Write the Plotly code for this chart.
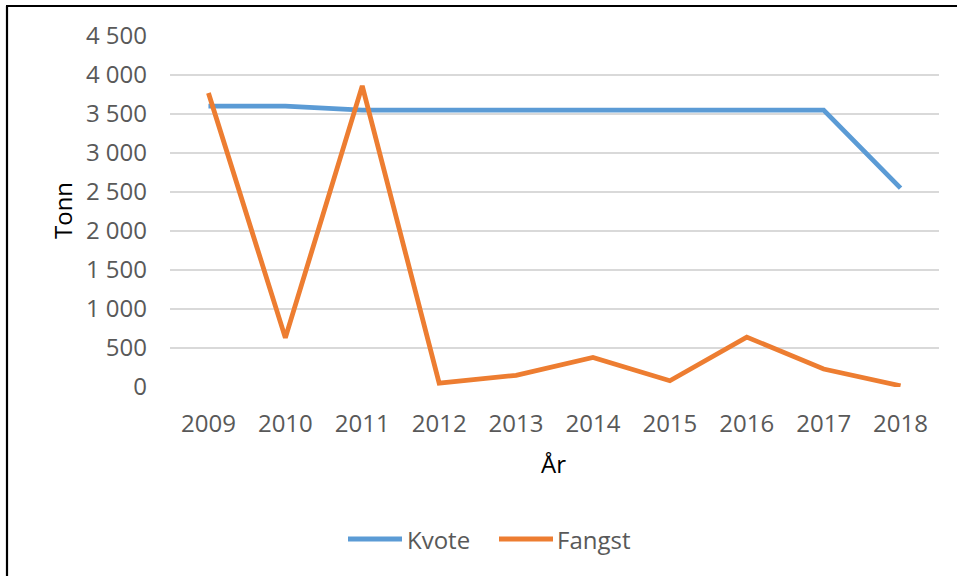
import plotly.graph_objects as go

years = ["2009", "2010", "2011", "2012", "2013", "2014", "2015", "2016", "2017", "2018"]
kvote = [3600, 3600, 3550, 3550, 3550, 3550, 3550, 3550, 3550, 2550]
fangst = [3770, 630, 3860, 50, 150, 380, 80, 640, 230, 15]
y_ticks = [0, 500, 1000, 1500, 2000, 2500, 3000, 3500, 4000, 4500]
series_names = ["Kvote", "Fangst"]
colors = ["#5B9BD5", "#ED7D31"]

FONT = "Open Sans, Carlito, Lato, sans-serif"
GREY = "#595959"

fig = go.Figure()
for name, vals, col in zip(series_names, [kvote, fangst], colors):
    fig.add_trace(go.Scatter(x=years, y=vals, mode="lines", name=name,
                             line=dict(color=col, width=4.8), showlegend=False))

W, H = 957, 576
L, R, T, B = 170, 18, 36, 189
pw, ph = W - L - R, H - T - B

def px(xp):
    return (xp - L) / pw

def py(yp):
    return (H - B - yp) / ph

shapes = [
    # outer chart frame (left and top edges visible)
    dict(type="line", xref="paper", yref="paper", x0=px(7), x1=px(7), y0=py(600), y1=py(6),
         line=dict(color="black", width=2.2)),
    dict(type="line", xref="paper", yref="paper", x0=px(6), x1=px(970), y0=py(6), y1=py(6),
         line=dict(color="black", width=2.2)),
]
annotations = [
    dict(text="Tonn", xref="paper", yref="paper", x=px(62), y=py(211), textangle=-90,
         showarrow=False, font=dict(family=FONT, size=24, color="black"),
         xanchor="center", yanchor="middle"),
    dict(text="År", xref="paper", yref="paper", x=px(553), y=py(463),
         showarrow=False, font=dict(family=FONT, size=24, color="black"),
         xanchor="center", yanchor="middle"),
]
# manual legend
leg = [(348, 402, 405), (499, 553, 555)]
for (x0, x1, xt), name, col in zip(leg, series_names, colors):
    shapes.append(dict(type="line", xref="paper", yref="paper", x0=px(x0), x1=px(x1),
                       y0=py(539), y1=py(539), line=dict(color=col, width=4.8)))
    annotations.append(dict(text=name, xref="paper", yref="paper", x=px(xt), y=py(539),
                            showarrow=False, xanchor="left", yanchor="middle",
                            font=dict(family=FONT, size=24, color=GREY)))

fig.update_layout(
    width=W, height=H,
    margin=dict(l=L, r=R, t=T, b=B),
    paper_bgcolor="white", plot_bgcolor="white",
    separators=", ",
    shapes=shapes, annotations=annotations,
    showlegend=False,
    xaxis=dict(type="category", range=[-0.5, 9.5], showgrid=False, zeroline=False,
               showline=False, ticks="", ticklabelstandoff=20,
               tickfont=dict(family=FONT, size=24, color=GREY)),
    yaxis=dict(range=[0, 4500], tickvals=y_ticks, tickformat=",d", showgrid=True,
               gridcolor="#D9D9D9", gridwidth=1.8, zeroline=False, showline=False,
               ticks="", ticklabelstandoff=22,
               tickfont=dict(family=FONT, size=24, color=GREY)),
)

fig.write_html("out.html", config={"displayModeBar": False},
               post_script="document.body.style.margin='0';document.body.style.overflow='hidden';")
